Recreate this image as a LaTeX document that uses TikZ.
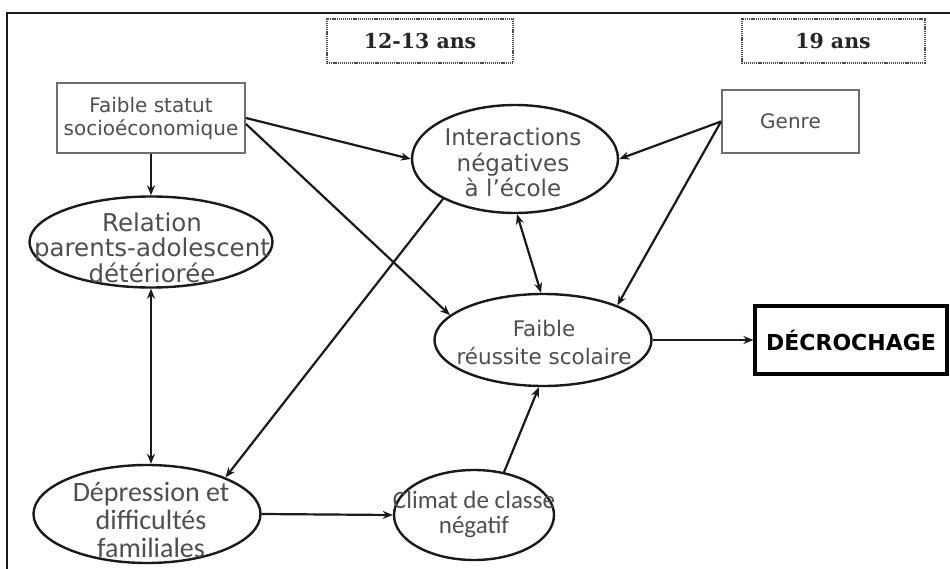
\documentclass[tikz,border=0pt]{standalone}
\usepackage{fontspec}
\usetikzlibrary{shapes.geometric,arrows.meta,calc}
\setmainfont{DejaVu Sans}
\newfontfamily\calibfont{Carlito}
\newfontfamily\agefont{DejaVu Serif}
\definecolor{txtgray}{HTML}{4F4F4F}
\definecolor{linedark}{HTML}{1A1A1A}
\definecolor{boxgray}{HTML}{6E6E6E}
\begin{document}
\begin{tikzpicture}[x=1pt,y=-1pt,
  ell/.style={draw=linedark, line width=2.4pt, ellipse, inner sep=0pt},
  rbox/.style={draw=boxgray, line width=1.9pt, rectangle, inner sep=0pt},
  agebox/.style={draw=black!70, line width=2pt, dash pattern=on 1.2pt off 0.9pt, rectangle, inner sep=0pt},
  txt/.style={text=txtgray, align=center, inner sep=0pt},
  arr/.style={draw=linedark, line width=2.2pt, -{Stealth[length=10pt,width=8pt]}},
  darr/.style={draw=linedark, line width=2.2pt, {Stealth[length=10pt,width=8pt]}-{Stealth[length=10pt,width=8pt]}},
]
\useasboundingbox (0,0) rectangle (950,569);
\fill[white] (0,0) rectangle (950,569);
\draw[linedark, line width=2.2pt] (7,569) -- (7,13) -- (950,13);

% age boxes
\node[agebox, minimum width=186pt, minimum height=44pt, text=black!85,
      font=\agefont\bfseries\fontsize{20.5}{24}\selectfont] (age1) at (420,41) {12-13 ans};
\node[agebox, minimum width=183pt, minimum height=44pt, text=black!85,
      font=\agefont\bfseries\fontsize{20.5}{24}\selectfont] (age2) at (833,41) {19 ans};

% rectangles
\node[rbox, txt, minimum width=188pt, minimum height=70pt,
      font=\fontsize{20}{23}\selectfont] (fss) at (151,118) {Faible statut\\socioéconomique};
\node[rbox, txt, minimum width=137pt, minimum height=63pt,
      font=\fontsize{20}{23}\selectfont] (genre) at (790.5,121.5) {Genre};
\node[draw=black, line width=3.2pt, rectangle, inner sep=0pt, minimum width=192pt, minimum height=68pt,
      font=\bfseries\fontsize{22}{26}\selectfont, text=black] (dec) at (851,340) {DÉCROCHAGE};

% ellipses
\node[ell, minimum width=206pt, minimum height=108pt] (int) at (515,159) {};
\node[txt, font=\fontsize{23}{25.5}\selectfont] (intt) at (513,162.5) {Interactions\\négatives\\à l’école};

\node[ell, minimum width=243pt, minimum height=91pt] (rel) at (151,242) {};
\node[txt, font=\fontsize{24.5}{25.5}\selectfont] (relt) at (152,247.5) {Relation\\parents-adolescent\\détériorée};

\node[ell, minimum width=217pt, minimum height=92pt] (fr) at (543,340) {};
\node[txt, font=\fontsize{21.5}{28}\selectfont] (frt) at (544,342.5) {Faible\\réussite scolaire};

\node[ell, minimum width=227pt, minimum height=98pt] (dep) at (147,514) {};
\node[txt, font=\calibfont\fontsize{28}{28}\selectfont] (dept) at (151,520) {Dépression et\\difficultés\\familiales};

\node[ell, minimum width=160pt, minimum height=90pt] (clim) at (474,515) {};
\node[txt, font=\calibfont\fontsize{25}{25}\selectfont] (climt) at (474,514.5) {Climat de classe\\négatif};

% connectors
\draw[arr] (fss.east) -- (int.west);
\draw[arr] ([yshift=-6pt]fss.east) -- (fr.165);
\draw[arr] (fss.south) -- (rel.north);
\draw[darr] (rel.south) -- (rel.south |- dep.north);
\draw[arr] (int.209) -- (dep.25);
\draw[darr] ([xshift=2pt]int.south) -- ([xshift=-2pt]fr.north);
\draw[arr] (genre.west) -- (int.east);
\draw[arr] (genre.west) -- (fr.25);
\draw[arr] (fr.east) -- (dec.west);
\draw[arr] (dep.east) -- (clim.west);
\draw[arr] (clim.55) -- (fr.265);
\end{tikzpicture}
\end{document}
